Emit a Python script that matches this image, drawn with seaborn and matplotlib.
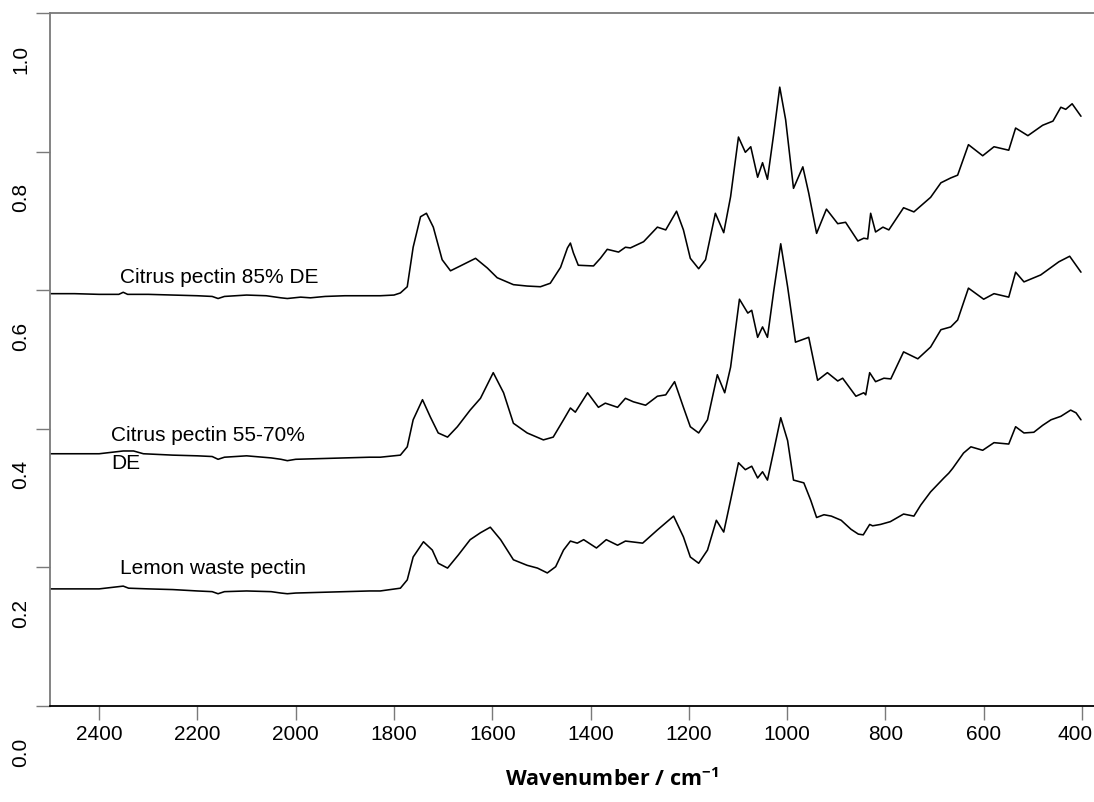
import numpy as np
import pandas as pd
import matplotlib
matplotlib.use("Agg")
import matplotlib.pyplot as plt
import matplotlib.transforms as mtransforms
import seaborn as sns

# ---------------- data ----------------
wn_85 = [2500, 2450, 2400, 2360, 2351, 2342, 2300, 2250, 2200, 2170, 2158, 2145, 2100, 2060, 2030, 2017,
         1990, 1970, 1940, 1900, 1850, 1828, 1800, 1787, 1773, 1761, 1746, 1734, 1720, 1702, 1685, 1665,
         1634, 1610, 1590, 1557, 1529, 1502, 1482, 1461, 1447, 1441, 1435, 1425, 1394, 1380, 1366, 1343,
         1329, 1319, 1292, 1264, 1247, 1225, 1211, 1197, 1180, 1166, 1146, 1129, 1115, 1099, 1085, 1074,
         1060, 1050, 1040, 1027, 1015, 1003, 987, 968, 956, 940, 920, 897, 881, 856, 844, 836, 830, 820,
         805, 793, 763, 742, 708, 687, 667, 653, 631, 602, 579, 549, 535, 510, 480, 459, 443, 433, 420, 402]
abs_85 = [0.595, 0.595, 0.594, 0.594, 0.597, 0.594, 0.594, 0.593, 0.592, 0.591, 0.588, 0.591, 0.593, 0.592,
          0.589, 0.588, 0.590, 0.589, 0.591, 0.592, 0.592, 0.592, 0.593, 0.596, 0.605, 0.662, 0.706, 0.711,
          0.691, 0.644, 0.628, 0.635, 0.646, 0.632, 0.618, 0.608, 0.606, 0.605, 0.610, 0.633, 0.661, 0.668,
          0.654, 0.636, 0.635, 0.646, 0.659, 0.655, 0.662, 0.661, 0.670, 0.691, 0.687, 0.714, 0.687, 0.646,
          0.631, 0.644, 0.711, 0.683, 0.735, 0.821, 0.799, 0.807, 0.763, 0.784, 0.760, 0.827, 0.893, 0.846,
          0.747, 0.778, 0.740, 0.682, 0.717, 0.696, 0.698, 0.671, 0.675, 0.674, 0.711, 0.684, 0.691, 0.687,
          0.719, 0.713, 0.734, 0.755, 0.762, 0.766, 0.810, 0.794, 0.807, 0.802, 0.834, 0.823, 0.838, 0.844,
          0.864, 0.861, 0.869, 0.851]

wn_5570 = [2500, 2400, 2351, 2330, 2310, 2250, 2200, 2170, 2158, 2145, 2100, 2050, 2030, 2017, 2000, 1950,
           1900, 1850, 1828, 1787, 1773, 1761, 1742, 1726, 1710, 1691, 1671, 1645, 1624, 1598, 1577, 1557,
           1529, 1496, 1476, 1455, 1441, 1431, 1406, 1384, 1370, 1345, 1329, 1313, 1288, 1264, 1247, 1229,
           1211, 1197, 1180, 1162, 1142, 1127, 1115, 1097, 1080, 1072, 1060, 1050, 1040, 1027, 1013, 999,
           983, 956, 938, 918, 897, 887, 860, 844, 840, 832, 820, 803, 789, 763, 734, 708, 687, 667, 653,
           631, 600, 579, 549, 535, 518, 484, 447, 425, 402]
abs_5570 = [0.364, 0.364, 0.368, 0.368, 0.364, 0.362, 0.361, 0.360, 0.356, 0.359, 0.361, 0.358, 0.356, 0.354,
            0.356, 0.357, 0.358, 0.359, 0.359, 0.362, 0.374, 0.413, 0.442, 0.417, 0.394, 0.388, 0.403, 0.427,
            0.444, 0.481, 0.452, 0.408, 0.394, 0.384, 0.388, 0.413, 0.430, 0.424, 0.452, 0.431, 0.437, 0.431,
            0.444, 0.439, 0.434, 0.447, 0.449, 0.468, 0.431, 0.403, 0.394, 0.413, 0.478, 0.452, 0.489, 0.587,
            0.567, 0.571, 0.532, 0.547, 0.532, 0.600, 0.667, 0.605, 0.525, 0.532, 0.470, 0.481, 0.469, 0.473,
            0.447, 0.452, 0.449, 0.481, 0.468, 0.473, 0.472, 0.511, 0.501, 0.518, 0.543, 0.547, 0.557, 0.603,
            0.587, 0.595, 0.590, 0.626, 0.612, 0.622, 0.641, 0.649, 0.626]

wn_lemon = [2500, 2400, 2351, 2340, 2300, 2250, 2200, 2170, 2158, 2145, 2100, 2050, 2030, 2017, 2000, 1950,
            1900, 1850, 1828, 1787, 1773, 1761, 1740, 1722, 1710, 1691, 1669, 1645, 1624, 1604, 1583, 1557,
            1529, 1508, 1488, 1471, 1455, 1441, 1427, 1414, 1388, 1368, 1345, 1329, 1294, 1264, 1231, 1211,
            1197, 1180, 1162, 1144, 1129, 1115, 1099, 1085, 1072, 1060, 1050, 1040, 1027, 1013, 999, 987,
            966, 952, 940, 925, 910, 890, 870, 855, 845, 832, 826, 810, 790, 763, 742, 728, 708, 681, 671,
            663, 641, 626, 602, 579, 549, 535, 518, 498, 480, 463, 443, 423, 412, 402]
abs_lemon = [0.169, 0.169, 0.173, 0.170, 0.169, 0.168, 0.166, 0.165, 0.162, 0.165, 0.166, 0.165, 0.163, 0.162,
             0.163, 0.164, 0.165, 0.166, 0.166, 0.170, 0.182, 0.215, 0.237, 0.225, 0.206, 0.199, 0.218, 0.240,
             0.250, 0.258, 0.240, 0.211, 0.203, 0.199, 0.192, 0.201, 0.225, 0.238, 0.235, 0.240, 0.228, 0.240,
             0.232, 0.238, 0.235, 0.254, 0.274, 0.244, 0.215, 0.206, 0.225, 0.268, 0.251, 0.297, 0.351, 0.341,
             0.346, 0.329, 0.338, 0.326, 0.369, 0.416, 0.383, 0.326, 0.322, 0.297, 0.272, 0.276, 0.274, 0.268,
             0.255, 0.248, 0.247, 0.262, 0.260, 0.262, 0.266, 0.277, 0.274, 0.290, 0.309, 0.329, 0.336, 0.343,
             0.365, 0.374, 0.369, 0.380, 0.378, 0.403, 0.394, 0.395, 0.405, 0.413, 0.418, 0.427, 0.423, 0.413]

labels = ["Citrus pectin 85% DE", "Citrus pectin 55-70%\nDE", "Lemon waste pectin"]
label_pos = [(2357, 0.619), (2376, 0.370), (2357, 0.198)]
x_ticks = [2400, 2200, 2000, 1800, 1600, 1400, 1200, 1000, 800, 600, 400]
y_ticks = [0.0, 0.2, 0.4, 0.6, 0.8, 1.0]
x_label = r"Wavenumber / cm$^{\mathbf{-1}}$"

# ---------------- frame ----------------
frames = []
for name, w, a in [("85", wn_85, abs_85), ("5570", wn_5570, abs_5570), ("lemon", wn_lemon, abs_lemon)]:
    frames.append(pd.DataFrame({"wavenumber": w, "absorbance": a, "sample": name}))
df = pd.concat(frames, ignore_index=True)

sns.set_style("white")
plt.rcParams["font.family"] = ["Liberation Sans", "DejaVu Sans"]
plt.rcParams["text.color"] = "black"
plt.rcParams["axes.labelcolor"] = "black"
plt.rcParams["mathtext.fontset"] = "custom"
plt.rcParams["mathtext.rm"] = "Open Sans:bold"
plt.rcParams["mathtext.bf"] = "Open Sans:bold"

W, H = 1094, 802
fig = plt.figure(figsize=(W / 100, H / 100), dpi=100)
ax = fig.add_axes([50 / W, 96 / H, 1044 / W, 693 / H])

sns.lineplot(data=df, x="wavenumber", y="absorbance", units="sample", estimator=None,
             color="black", linewidth=1.15, ax=ax, legend=False)

ax.set_xlim(2500, 375.5)
ax.set_ylim(0, 1.0)
ax.set_xticks(x_ticks)
ax.set_xticklabels([str(t) for t in x_ticks])
ax.set_yticks(y_ticks)
ax.set_yticklabels([f"{t:.1f}" for t in y_ticks], rotation=90, va="center")

gray = "#7a7a7a"
for s in ["left", "top"]:
    ax.spines[s].set_color(gray)
    ax.spines[s].set_linewidth(1.3)
ax.spines["bottom"].set_color("black")
ax.spines["bottom"].set_linewidth(1.3)
ax.spines["right"].set_visible(False)

ax.tick_params(axis="x", direction="out", length=10, width=1.0, color=gray, labelcolor="black",
               labelsize=15, pad=4, bottom=True)
ax.tick_params(axis="y", direction="out", length=10, width=1.0, color=gray, labelcolor="black",
               labelsize=15, pad=4, left=True)

offset = mtransforms.ScaledTranslation(0, -0.46, fig.dpi_scale_trans)
for lab in ax.get_yticklabels():
    lab.set_transform(lab.get_transform() + offset)
# the last x tick label sits against the right edge of the picture
last = ax.get_xticklabels()[-1]
last.set_transform(last.get_transform() + mtransforms.ScaledTranslation(-0.07, 0, fig.dpi_scale_trans))

ax.set_xlabel(x_label, fontsize=15.5, fontweight="bold", family=["Open Sans", "DejaVu Sans"],
              color="black")
ax.set_ylabel("")
ax.xaxis.set_label_coords(0.538, -0.106)
ax.xaxis.label.set_va("center")

for txt, (x, y) in zip(labels, label_pos):
    ax.text(x, y, txt, fontsize=15, ha="left", va="center", linespacing=1.65, color="black")

fig.savefig("out.png", dpi=100)
